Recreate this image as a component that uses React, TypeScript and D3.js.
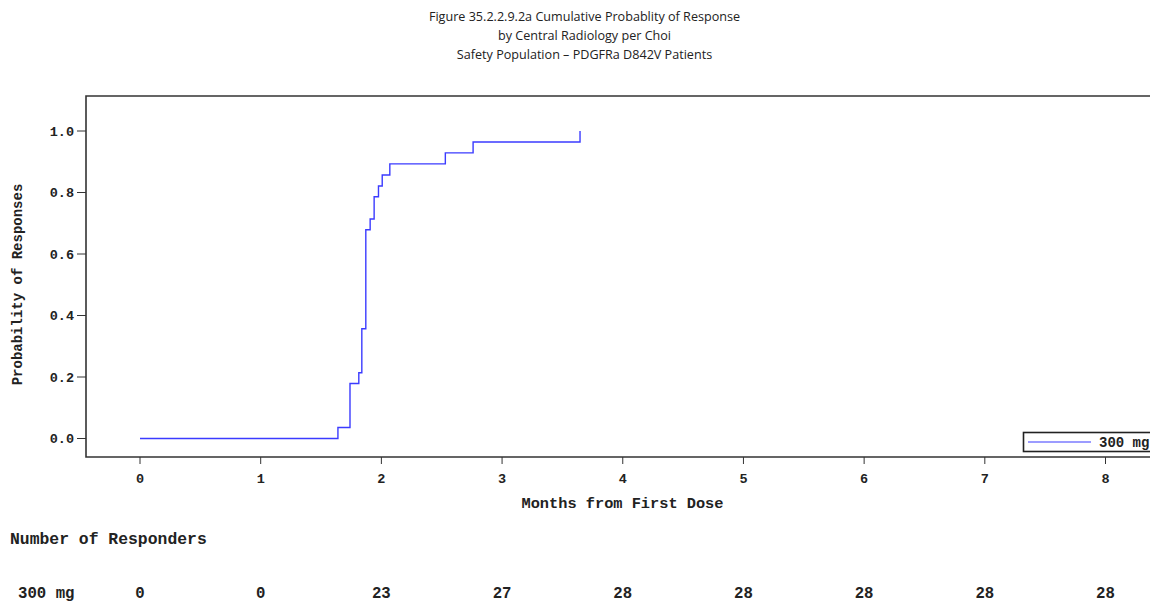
import React from "react";
import * as d3 from "d3";

const titleLines = [
  "Figure 35.2.2.9.2a Cumulative Probablity of Response",
  "by Central Radiology per Choi",
  "Safety Population \u2013 PDGFRa D842V Patients",
];
const eventMonths = [0, 1.64, 1.74, 1.813, 1.838, 1.871, 1.907, 1.94, 1.976, 2.007, 2.07, 2.53, 2.76, 3.646];
const responseProb = [0, 0.036, 0.179, 0.214, 0.357, 0.679, 0.714, 0.786, 0.821, 0.857, 0.893, 0.929, 0.964, 1.0];
const xTicks = [0, 1, 2, 3, 4, 5, 6, 7, 8];
const yTicks = [0, 0.2, 0.4, 0.6, 0.8, 1.0];
const responderCounts = [0, 0, 23, 27, 28, 28, 28, 28, 28];
const seriesName = "300 mg";

const W = 1150;
const H = 603;
const frameLeft = 86;
const frameTop = 96;
const frameBottom = 457;
const blue = "#3b3bff";
const mono = "'Liberation Mono', 'Courier New', monospace";

export default function App() {
  const x = d3.scaleLinear().domain([0, 8]).range([140, 1105.5]);
  const y = d3.scaleLinear().domain([0, 1]).range([438.5, 131]);
  const pts: [number, number][] = eventMonths.map((t, i) => [t, responseProb[i]]);
  const line = d3
    .line<[number, number]>()
    .x((d) => x(d[0]))
    .y((d) => y(d[1]))
    .curve(d3.curveStepAfter);
  const fmt = d3.format(".1f");

  return (
    <svg
      width={W}
      height={H}
      style={{ position: "absolute", left: 0, top: 0, background: "#fff" }}
    >
      {titleLines.map((t, i) => (
        <text
          key={i}
          x={584.5}
          y={21 + i * 19.2}
          textAnchor="middle"
          fontFamily="'Open Sans', 'Noto Sans', sans-serif"
          fontSize={12.6}
          fill="#222"
        >
          {t}
        </text>
      ))}

      {/* frame */}
      <path
        d={`M${W + 10},${frameTop}H${frameLeft}V${frameBottom}H${W + 10}`}
        fill="none"
        stroke="#333"
        strokeWidth={1.6}
      />

      {/* y axis ticks */}
      {yTicks.map((v) => (
        <g key={v}>
          <line x1={frameLeft - 9} x2={frameLeft} y1={y(v)} y2={y(v)} stroke="#333" strokeWidth={1} />
          <text
            x={74}
            y={y(v) + 4.5}
            textAnchor="end"
            fontFamily={mono}
            fontWeight="bold"
            fontSize={13.5}
            fill="#222"
          >
            {fmt(v)}
          </text>
        </g>
      ))}

      {/* x axis ticks */}
      {xTicks.map((v) => (
        <g key={v}>
          <line x1={x(v)} x2={x(v)} y1={frameBottom} y2={frameBottom + 7} stroke="#333" strokeWidth={1} />
          <text
            x={x(v)}
            y={482.5}
            textAnchor="middle"
            fontFamily={mono}
            fontWeight="bold"
            fontSize={13.5}
            fill="#222"
          >
            {v}
          </text>
        </g>
      ))}

      <text
        x={622.5}
        y={508}
        textAnchor="middle"
        fontFamily={mono}
        fontWeight="bold"
        fontSize={15.3}
        fill="#222"
      >
        Months from First Dose
      </text>
      <text
        transform={`translate(22,${284.5}) rotate(-90)`}
        textAnchor="middle"
        fontFamily={mono}
        fontWeight="bold"
        fontSize={14}
        fill="#222"
      >
        Probability of Responses
      </text>

      {/* curve */}
      <path d={line(pts) || ""} fill="none" stroke={blue} strokeWidth={1.4} />

      {/* legend */}
      <rect x={1023.5} y={432.5} width={140} height={19} fill="#fff" stroke="#222" strokeWidth={1.6} />
      <line x1={1028} x2={1091} y1={442} y2={442} stroke={blue} strokeWidth={1.2} />
      <text x={1099} y={446.5} fontFamily={mono} fontWeight="bold" fontSize={14} fill="#222">
        {seriesName}
      </text>

      {/* at-risk table */}
      <text x={10} y={544} fontFamily={mono} fontWeight="bold" fontSize={16.4} fill="#222">
        Number of Responders
      </text>
      <text x={18} y={598} fontFamily={mono} fontWeight="bold" fontSize={15.7} fill="#222">
        {seriesName}
      </text>
      {responderCounts.map((c, i) => (
        <text
          key={i}
          x={x(xTicks[i])}
          y={598}
          textAnchor="middle"
          fontFamily={mono}
          fontWeight="bold"
          fontSize={15.7}
          fill="#222"
        >
          {c}
        </text>
      ))}
    </svg>
  );
}
